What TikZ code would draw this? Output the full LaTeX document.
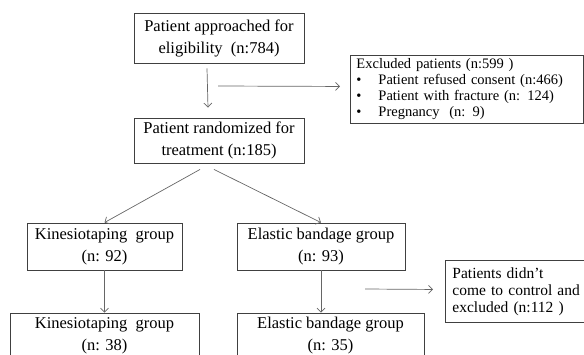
\documentclass[tikz,border=0pt]{standalone}
\usepackage{fontspec}
\setmainfont{Liberation Serif}
\usepackage{tikz}
\usetikzlibrary{shapes,arrows.meta}
\usetikzlibrary{positioning}
\tikzstyle{block} = [rectangle, draw=black!75, line width=0.9pt, align=center,
    inner sep=0pt, font=\fontsize{16.5}{22}\selectfont]
\tikzstyle{note} = [rectangle, draw=black!75, line width=0.9pt, align=left,
    inner xsep=6pt, inner ysep=0pt, anchor=north west]
\tikzstyle{line} = [draw=black!60, line width=0.7pt,
    -{Straight Barb[length=4pt,width=8pt]}]

\begin{document}
\begin{tikzpicture}[x=1pt, y=-1pt]
  \useasboundingbox (0,0) rectangle (584,354);
  \clip (0,0) rectangle (584,354);

  % Place nodes
  \node [block, minimum width=170pt, minimum height=50pt] (approach) at (219,38)
    {Patient approached for\\eligibility\ \ (n:784)};
  \node [block, minimum width=170pt, minimum height=45pt, below of=approach,
    node distance=102.5pt] (random) {Patient randomized for\\treatment (n:185)};
  \node [note, text width=221pt, minimum height=68pt,
    font=\fontsize{14.5}{16}\selectfont] (excluded) at (350,55)
    {Excluded patients (n:599 )\\
     \makebox[22pt][l]{\textbullet}Patient refused consent (n:466)\\
     \makebox[22pt][l]{\textbullet}Patient with fracture (n: 124)\\
     \makebox[22pt][l]{\textbullet}Pregnancy\ \ (n: 9)};
  \node [block, minimum width=155pt, minimum height=47pt] (kinesio) at (104.5,246.5)
    {Kinesiotaping\ \ group\\(n: 92)};
  \node [block, minimum width=168pt, minimum height=47pt, right of=kinesio,
    node distance=216.5pt] (elastic) {Elastic bandage group\\(n: 93)};
  \node [block, minimum width=189pt, minimum height=46pt, below of=kinesio,
    node distance=89.5pt] (kinesio2) {Kinesiotaping\ \ group\\(n: 38)};
  \node [block, minimum width=187pt, minimum height=46pt] (elastic2) at (330.5,336)
    {Elastic bandage group\\(n: 35)};
  \node [note, text width=180pt, minimum height=62pt, inner xsep=7pt,
    font=\fontsize{15.5}{17}\selectfont] (dropout) at (445,260)
    {Patients didn't\\come to control and\\excluded (n:112 )};

  % Free arrow ends
  \coordinate (side) at (218,86);
  \coordinate (lost) at (365,289);

  % Draw edges
  \path [line] ([xshift=-12pt,yshift=-5pt]approach.south)
    -- ([xshift=-11pt,yshift=10pt]random.north);
  \path [line] (side) -- ([xshift=-10pt,yshift=3pt]excluded.west);
  \path [line] ([xshift=-19pt,yshift=-6pt]random.south) -- (kinesio.north);
  \path [line] ([xshift=-5pt,yshift=-6pt]random.south) -- (elastic.north);
  \path [line] (kinesio.south) -- (kinesio2.north);
  \path [line] (elastic.south) -- (elastic.south |- elastic2.north);
  \path [line] (lost) -- ([xshift=-12pt,yshift=2pt]dropout.west);
\end{tikzpicture}
\end{document}
